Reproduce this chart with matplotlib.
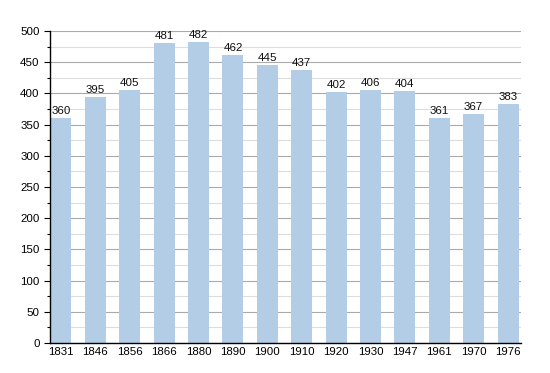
import matplotlib
matplotlib.use("Agg")
import matplotlib.pyplot as plt
import numpy as np
from matplotlib.ticker import MultipleLocator

years = ["1831", "1846", "1856", "1866", "1880", "1890", "1900",
         "1910", "1920", "1930", "1947", "1961", "1970", "1976"]
population = [360, 395, 405, 481, 482, 462, 445, 437, 402, 406, 404, 361, 367, 383]

BAR = "#b3cde6"
FS = 8.25

plt.rcParams["font.family"] = ["Liberation Sans", "DejaVu Sans"]

fig = plt.figure(figsize=(5.5, 3.73), dpi=100)
ax = fig.add_axes([0.0909, 0.0804, 0.856, 0.8365])

x = np.arange(len(years))
bars = ax.bar(x, population, width=0.61, color=BAR, zorder=2)
for b, v in zip(bars, population):
    ax.text(b.get_x() + b.get_width() / 2, v + 3, str(v),
            ha="center", va="bottom", fontsize=FS, color="#111111", zorder=3)

ax.set_xlim(-0.32, len(years) - 0.63)
ax.set_ylim(0, 500)
ax.set_xticks(x)
ax.set_xticklabels(years, fontsize=FS)
ax.yaxis.set_major_locator(MultipleLocator(50))
ax.yaxis.set_minor_locator(MultipleLocator(25))
ax.tick_params(axis="y", which="major", labelsize=FS, length=4, width=0.8)
ax.tick_params(axis="y", which="minor", length=2, width=0.8)
ax.tick_params(axis="x", length=0, pad=3)

ax.grid(axis="y", which="major", color="#aaaaaa", linewidth=0.8, zorder=0)
ax.grid(axis="y", which="minor", color="#dddddd", linewidth=0.8, zorder=0)
ax.set_axisbelow(True)

for s in ("top", "right"):
    ax.spines[s].set_visible(False)
for s in ("left", "bottom"):
    ax.spines[s].set_linewidth(1.0)
    ax.spines[s].set_zorder(4)

fig.savefig("out.png", dpi=100, facecolor="white")
